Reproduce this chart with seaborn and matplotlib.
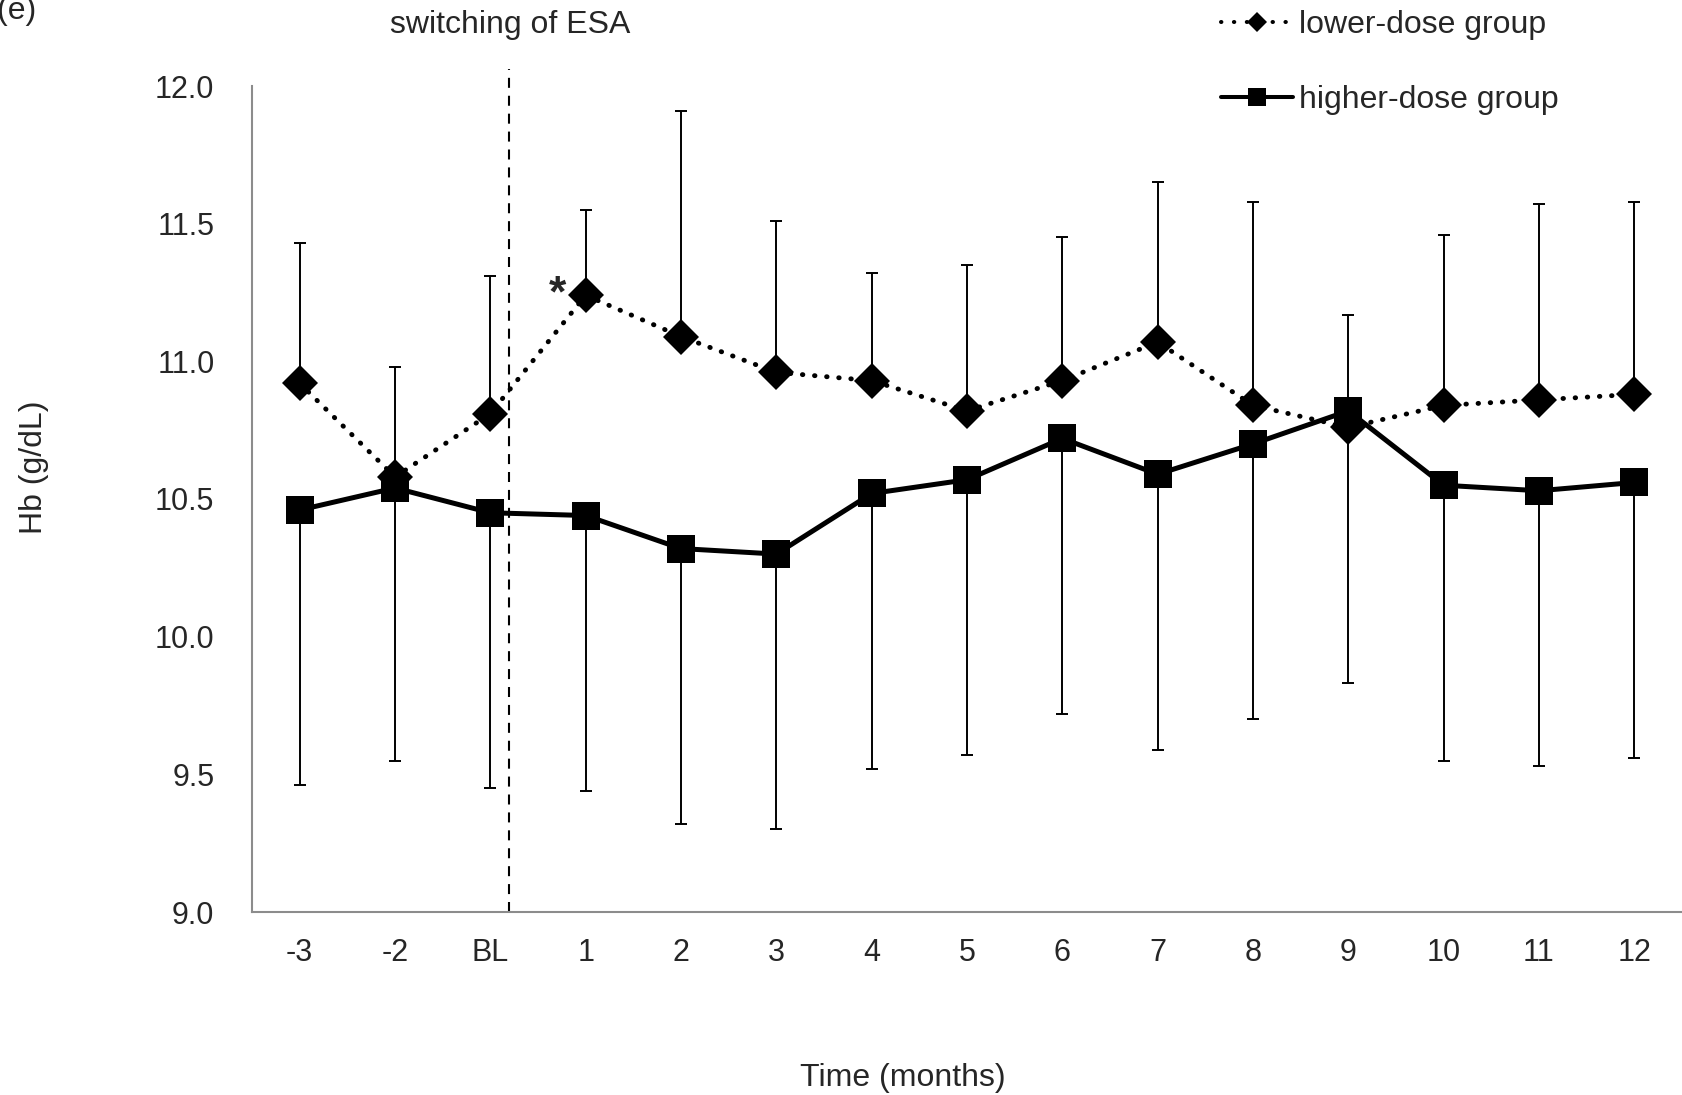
import matplotlib
matplotlib.use("Agg")
import matplotlib.pyplot as plt
from matplotlib.lines import Line2D
import seaborn as sns
import numpy as np

# data
months = ['-3', '-2', 'BL', '1', '2', '3', '4', '5', '6', '7', '8', '9', '10', '11', '12']
lower_mean = [10.92, 10.58, 10.81, 11.24, 11.09, 10.96, 10.93, 10.82, 10.93, 11.07, 10.84, 10.76, 10.84, 10.86, 10.88]
lower_sd = [0.51, 0.40, 0.50, 0.31, 0.82, 0.55, 0.39, 0.53, 0.52, 0.58, 0.74, 0.41, 0.62, 0.71, 0.70]
higher_mean = [10.46, 10.54, 10.45, 10.44, 10.32, 10.30, 10.52, 10.57, 10.72, 10.59, 10.70, 10.82, 10.55, 10.53, 10.56]
higher_sd = [1.00, 0.99, 1.00, 1.00, 1.00, 1.00, 1.00, 1.00, 1.00, 1.00, 1.00, 0.99, 1.00, 1.00, 1.00]
switch_pos = 2.2  # between BL and month 1

sns.set_style("white")
plt.rcParams['font.family'] = ['Liberation Sans', 'DejaVu Sans']

W, H = 1683, 1095
fig = plt.figure(figsize=(W / 100, H / 100), dpi=100)
ax = fig.add_axes([252 / W, 1 - 912 / H, 1430 / W, 826 / H])

x = np.arange(len(months))
FS = 23       # labels, legend, annotation
TFS = 22      # tick labels
GREY = '#8c8c8c'
dotted = (0, (0.1, 2.4))

# one-sided SD bars: up for lower-dose, down for higher-dose
ax.errorbar(x, lower_mean, yerr=[np.zeros(len(x)), lower_sd], fmt='none',
            ecolor='black', elinewidth=1.4, capsize=4.5, capthick=1.4, zorder=2)
ax.errorbar(x, higher_mean, yerr=[higher_sd, np.zeros(len(x))], fmt='none',
            ecolor='black', elinewidth=1.4, capsize=4.5, capthick=1.4, zorder=2)

sns.lineplot(x=x, y=lower_mean, ax=ax, color='black', marker='D', markersize=18,
             markeredgewidth=0, linewidth=3.5, linestyle=dotted,
             dash_capstyle='round', zorder=3, legend=False)
sns.lineplot(x=x, y=higher_mean, ax=ax, color='black', marker='s', markersize=20,
             markeredgewidth=0, linewidth=3.6, zorder=4, legend=False)

# switching line
ax.axvline(switch_pos, ymin=0, ymax=1.02, color='black', lw=1.5,
           linestyle=(0, (4.8, 3.8)), clip_on=False, zorder=1)

ax.text(2.70, 11.20, '*', fontsize=32, fontweight='bold', ha='center', va='baseline')

ax.set_xlim(-0.5, len(months) - 0.5)
ax.set_ylim(9, 12)
ax.set_yticks(np.arange(9, 12.01, 0.5))
ax.set_yticklabels([f'{v:.1f}' for v in np.arange(9, 12.01, 0.5)])
ax.set_xticks(x)
ax.set_xticklabels(months)
ax.set_xticks(np.arange(-0.5, len(months), 1), minor=True)
ax.tick_params(axis='x', which='major', length=0, pad=19, labelsize=TFS)
ax.tick_params(axis='x', which='minor', length=7, width=1.4, color=GREY, direction='out')
ax.tick_params(axis='y', length=7, width=1.4, color=GREY, direction='out', pad=20, labelsize=TFS)
ax.set_xlabel('')
ax.set_ylabel('')

sns.despine(ax=ax)
for s in ['left', 'bottom']:
    ax.spines[s].set_color(GREY)
    ax.spines[s].set_linewidth(1.5)

fig.text(903 / W, 1 - 1078 / H, 'Time (months)', fontsize=FS, ha='center', va='center')
fig.text(34 / W, 1 - 467 / H, 'Hb (g/dL)', fontsize=FS, rotation=90, ha='center', va='center')
fig.text(510 / W, 1 - 25 / H, 'switching of ESA', fontsize=FS, ha='center', va='center')
fig.text(-0.002, 1 - 11 / H, '(e)', fontsize=FS, ha='left', va='center')

handles = [
    Line2D([], [], color='black', lw=2.9, linestyle=(0, (0.1, 3.1)), dash_capstyle='round',
           marker='D', markersize=10.5, markeredgewidth=0),
    Line2D([], [], color='black', lw=2.9, marker='s', markersize=13.5, markeredgewidth=0),
]
ax.legend(handles, ['lower-dose group', 'higher-dose group'], loc='upper left',
          bbox_to_anchor=(1221 / W, 1 - 10 / H), bbox_transform=fig.transFigure,
          frameon=False, fontsize=FS, handlelength=2.26, handletextpad=0.19,
          labelspacing=1.42, borderpad=0, borderaxespad=0, numpoints=1)

fig.savefig('out.png', dpi=100)
